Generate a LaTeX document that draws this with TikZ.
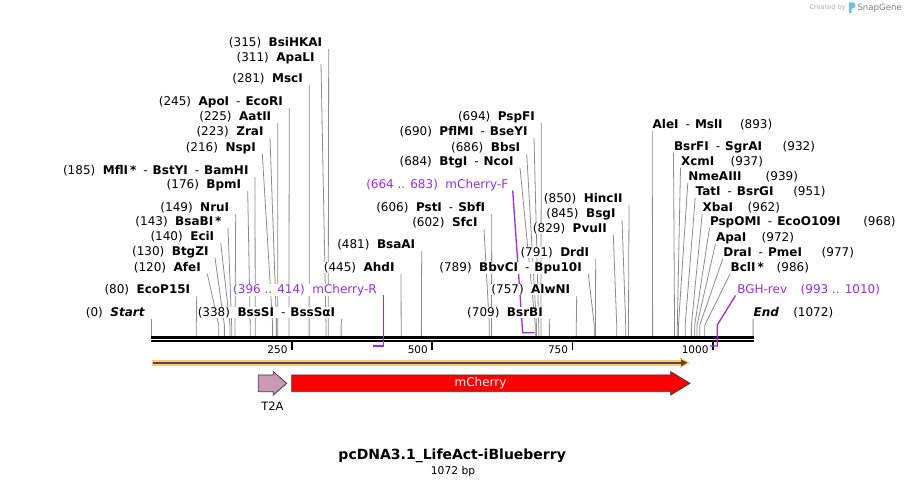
\documentclass[tikz,border=0pt]{standalone}
\usepackage{fontspec}
\setmainfont{DejaVu Sans}
\usetikzlibrary{arrows.meta}
\definecolor{cutgray}{RGB}{140,140,140}
\definecolor{primer}{RGB}{160,40,240}
\definecolor{orangeL}{RGB}{252,200,120}
\definecolor{orangeD}{RGB}{85,70,55}
\definecolor{tzacol}{RGB}{201,153,181}
\definecolor{edgecol}{RGB}{60,60,60}
\definecolor{logoblue}{RGB}{110,190,235}
\definecolor{sgray}{RGB}{175,175,175}
\pgfdeclarelayer{bg}
\pgfsetlayers{bg,main}
\newcommand\hy{\hspace{7pt}-\hspace{5pt}}
\newcommand\bpx[1]{151.4+0.5613*#1}
\tikzset{
 lab/.style={inner sep=0pt, outer sep=0pt, fill=white, font=\fontsize{12}{14}\selectfont},
 cutline/.style={draw=cutgray, line width=0.8pt},
 primline/.style={draw=primer, line width=1.3pt},
 ticklab/.style={inner sep=0pt, font=\fontsize{10.5}{12}\selectfont},
 featedge/.style={draw=edgecol, line width=0.8pt},
}
% left-labelled site: id, baseline y, line top x, bp, number, names
\newcommand\lsite[6]{%
  \node[lab, anchor=base east] (#1) at ({#3-6.5},#2) {#5\hspace{7.5pt}#6};
  \coordinate (#1t) at (#3,{#2+2.5});
  \coordinate (#1k) at ({\bpx{#4}},325);
  \coordinate (#1b) at ({\bpx{#4}},336);
  \begin{pgfonlayer}{bg}\draw[cutline] (#1t) -- (#1k) -- (#1b);\end{pgfonlayer}
}
% right-labelled site: id, baseline y, label left x, bp, names, number x, number
\newcommand\rsite[7]{%
  \node[lab, anchor=base west] (#1) at (#3,#2) {#5};
  \node[lab, anchor=base west] (#1n) at (#6,#2) {#7};
  \coordinate (#1t) at ({#3-0.5},{#2+2.5});
  \coordinate (#1k) at ({\bpx{#4}},325);
  \coordinate (#1b) at ({\bpx{#4}},336);
  \begin{pgfonlayer}{bg}\draw[cutline] (#1t) -- (#1k) -- (#1b);\end{pgfonlayer}
}
\begin{document}
\begin{tikzpicture}[x=1pt,y=-1pt]
\useasboundingbox (0,0) rectangle (906,486);

% left group
\lsite{bsihkai}{46.3}{328.7}{315}{(315)}{\textbf{BsiHKAI}}
\lsite{apali}{61.3}{321}{311}{(311)}{\textbf{ApaLI}}
\lsite{msci}{82.3}{309.3}{281}{(281)}{\textbf{MscI}}
\lsite{apoi}{105.3}{289.3}{245}{(245)}{\textbf{ApoI}\hy\textbf{EcoRI}}
\lsite{aatii}{120.3}{277.7}{225}{(225)}{\textbf{AatII}}
\lsite{zrai}{135.3}{270}{223}{(223)}{\textbf{ZraI}}
\lsite{nspi}{151.3}{262.3}{216}{(216)}{\textbf{NspI}}
\lsite{mfli}{174.3}{255}{185}{(185)}{\textbf{MflI\,*}\hy\textbf{BstYI}\hy\textbf{BamHI}}
\lsite{bpmi}{188.3}{247.7}{176}{(176)}{\textbf{BpmI}}
\lsite{nrui}{211.3}{235.7}{149}{(149)}{\textbf{NruI}}
\lsite{bsabi}{225.3}{228}{143}{(143)}{\textbf{BsaBI\,*}}
\lsite{ecii}{240.3}{220.7}{140}{(140)}{\textbf{EciI}}
\lsite{btgzi}{255.3}{215}{130}{(130)}{\textbf{BtgZI}}
\lsite{afei}{271.3}{207.3}{120}{(120)}{\textbf{AfeI}}
\lsite{ecop}{293.3}{196.7}{80}{(80)}{\textbf{EcoP15I}}
\lsite{startl}{316.3}{151.4}{0}{(0)}{\textbf{\itshape Start}}
\lsite{bsssi}{316.3}{341.7}{338}{(338)}{\textbf{BssSI}\hy\textbf{BssSαI}}

% middle group
\lsite{ahdi}{271.3}{401}{445}{(445)}{\textbf{AhdI}}
\lsite{bsaai}{248.3}{421.7}{481}{(481)}{\textbf{BsaAI}}
\lsite{psti}{211.3}{491.7}{606}{(606)}{\textbf{PstI}\hy\textbf{SbfI}}
\lsite{sfci}{226.3}{484}{602}{(602)}{\textbf{SfcI}}
\lsite{bbvci}{271.3}{588.3}{789}{(789)}{\textbf{BbvCI}\hy\textbf{Bpu10I}}
\lsite{drdi}{256.3}{595.7}{791}{(791)}{\textbf{DrdI}}
\lsite{alwni}{293.3}{576.7}{757}{(757)}{\textbf{AlwNI}}
\lsite{bsrbi}{316.3}{549.3}{709}{(709)}{\textbf{BsrBI}}
\lsite{pvuii}{232.3}{613.3}{829}{(829)}{\textbf{PvuII}}
\lsite{bsgi}{217.3}{622}{845}{(845)}{\textbf{BsgI}}
\lsite{hincii}{202.3}{629}{850}{(850)}{\textbf{HincII}}
\lsite{pspfi}{120.3}{541.3}{694}{(694)}{\textbf{PspFI}}
\lsite{pflmi}{135.3}{534}{690}{(690)}{\textbf{PflMI}\hy\textbf{BseYI}}
\lsite{bbsi}{151.3}{526.7}{686}{(686)}{\textbf{BbsI}}
\lsite{btgi}{165.3}{520}{684}{(684)}{\textbf{BtgI}\hy\textbf{NcoI}}

% right group
\rsite{alei}{128.3}{652.7}{893}{\textbf{AleI}\hy\textbf{MslI}}{740}{(893)}
\rsite{bsrfi}{150.3}{674}{932}{\textbf{BsrFI}\hy\textbf{SgrAI}}{782.7}{(932)}
\rsite{xcmi}{165.3}{681}{937}{\textbf{XcmI}}{730.7}{(937)}
\rsite{nmeaiii}{180.3}{688.3}{939}{\textbf{NmeAIII}}{765.7}{(939)}
\rsite{tati}{195.3}{695.7}{951}{\textbf{TatI}\hy\textbf{BsrGI}}{793.3}{(951)}
\rsite{xbai}{211.3}{702.7}{962}{\textbf{XbaI}}{747.7}{(962)}
\rsite{pspomi}{225.3}{710}{968}{\textbf{PspOMI}\hy\textbf{EcoO109I}}{863.3}{(968)}
\rsite{apai}{241.3}{716}{972}{\textbf{ApaI}}{761.7}{(972)}
\rsite{drai}{256.3}{723.3}{977}{\textbf{DraI}\hy\textbf{PmeI}}{821.7}{(977)}
\rsite{bcli}{271.3}{730.7}{986}{\textbf{BclI\,*}}{776.7}{(986)}
\rsite{endl}{316.3}{753.6}{1072}{\textbf{\itshape End}}{793.3}{(1072)}

% backbone
\coordinate (bbL1) at (151.4,337.5); \coordinate (bbR1) at (753.8,337.5);
\coordinate (bbL2) at (151.4,341.2); \coordinate (bbR2) at (753.8,341.2);
\draw[line width=3pt] (bbL1) -- (bbR1);
\draw[line width=2.4pt] (bbL2) -- (bbR2);

% ticks
\foreach \v/\x in {250/291.7, 500/432, 750/572.3, 1000/712.7}{
  \coordinate (tk\v a) at (\x,342.4);
  \coordinate (tk\v b) at (\x,350);
  \draw[line width=1.6pt] (tk\v a) -- (tk\v b);
  \node[ticklab, anchor=base east] (tl\v) at ({\x-4},353.5) {\v};
}

% primers
\node[lab, text=primer, anchor=base east] (mchf) at (508.3,188.3) {(664 .. 683)\hspace{7.5pt}mCherry-F};
\coordinate (mchft) at (512.7,190.5);
\coordinate (mchfk) at (522.7,332.7);
\coordinate (mchfe) at (534.5,332.7);
\begin{pgfonlayer}{bg}\draw[primline] (mchft) -- (mchfk) -- (mchfe);\end{pgfonlayer}

\node[lab, text=primer, anchor=base east] (mchr) at (376.7,293.3) {(396 .. 414)\hspace{7.5pt}mCherry-R};
\coordinate (mchrt) at (383.3,295);
\coordinate (mchrk) at (383.3,346);
\coordinate (mchre) at (373.3,346);
\draw[primline] (mchrt) -- (mchrk) -- (mchre);

\node[lab, text=primer, anchor=base west] (bgh) at (737.3,293.6) {BGH-rev};
\node[lab, text=primer, anchor=base west] (bghn) at (800.7,293.6) {(993 .. 1010)};
\coordinate (bght) at (735.5,295.5);
\coordinate (bghk) at (717.3,325);
\coordinate (bghm) at (717.3,346);
\coordinate (bghe) at (709.5,346);
\draw[primline] (bght) -- (bghk) -- (bghm) -- (bghe);

% orange full-length bar
\fill[orangeL] (151.7,360) rectangle (682,365.6);
\fill[orangeL] (680,357.2) -- (690,362.8) -- (680,368.4) -- cycle;
\draw[orangeD, line width=2pt] (152.5,362.8) -- (683,362.8);
\fill[orangeD] (681,359.4) -- (687.5,362.8) -- (681,366.2) -- cycle;

% features
\draw[featedge, fill=tzacol] (258.3,375) -- (273.3,375) -- (273.3,371.7) -- (286.7,383.3) -- (273.3,395) -- (273.3,391.7) -- (258.3,391.7) -- cycle;
\node[inner sep=0pt, font=\fontsize{11.5}{13}\selectfont] (t2a) at (272.5,406) {T2A};
\draw[featedge, fill=red] (291.7,375) -- (670.7,375) -- (670.7,371.7) -- (690,383.3) -- (670.7,395) -- (670.7,391.7) -- (291.7,391.7) -- cycle;
\node[inner sep=0pt, text=white, font=\fontsize{12}{14}\selectfont] (mch) at (480.5,383.3) {mCherry};

% title
\node[anchor=base, inner sep=0pt, font=\bfseries\fontsize{14}{16}\selectfont] (title) at (452.2,460) {pcDNA3.1\_LifeAct-iBlueberry};
\node[anchor=base, inner sep=0pt, font=\fontsize{10.7}{12}\selectfont] (size) at (453,474.5) {1072 bp};

% watermark
\node[anchor=base west, inner sep=0pt, text=sgray, font=\fontsize{6.6}{8}\selectfont] (cby) at (809.3,10) {Created by};
\fill[logoblue] (849,2.5) -- (853.2,2.5) .. controls (856.3,2.5) and (856.3,8.3) .. (853.2,8.3) -- (851.6,8.3) -- (851.6,13) -- (849,13) -- cycle;
\node[anchor=base west, inner sep=0pt, text=gray, font=\fontsize{8.6}{10}\selectfont] (sg) at (857.3,10.5) {SnapGene};
\end{tikzpicture}
\end{document}
